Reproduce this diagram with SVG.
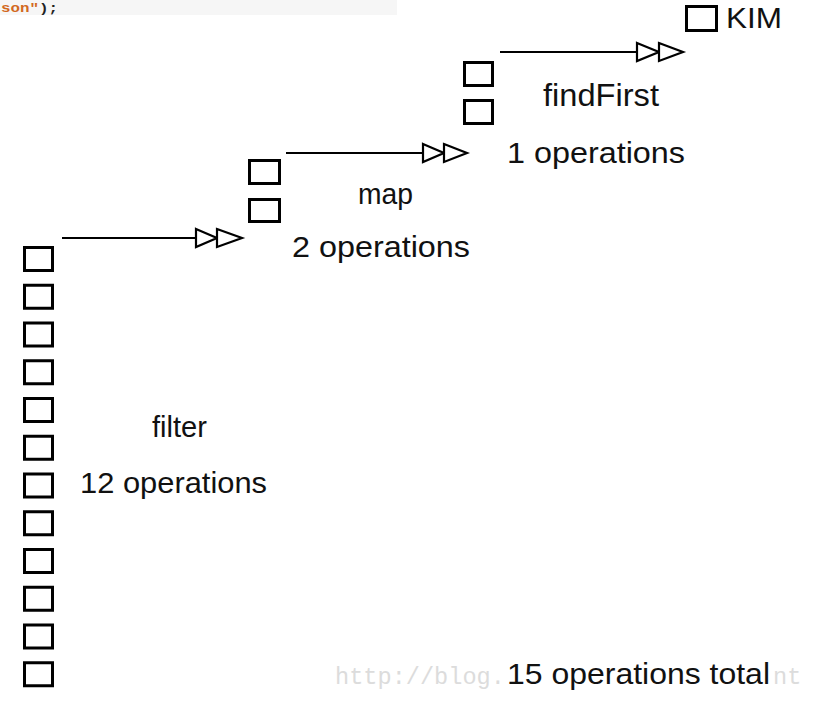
<svg xmlns="http://www.w3.org/2000/svg" width="837" height="705" viewBox="0 0 837 705">
<style>
.sq{fill:none;stroke:#000;stroke-width:3}
.ln{stroke:#000;stroke-width:2.2;fill:none}
.hd{fill:#fff;stroke:#000;stroke-width:2.2;stroke-linejoin:miter}
.t{font-family:"Liberation Sans",Arial,sans-serif;fill:#111}
.wm{font-family:"Liberation Mono","Courier New",monospace;font-size:23.6px;fill:#dcdcdc}
</style>
<rect width="837" height="705" fill="#fff"/>
<g id="code-snippet">
<rect x="0" y="0" width="397" height="15" fill="#f6f6f6"/>
<text x="1" y="11.5" font-family="Liberation Mono,monospace" font-size="13.5" font-weight="bold" textLength="57" lengthAdjust="spacingAndGlyphs"><tspan fill="#d2691e">son"</tspan><tspan fill="#222">);</tspan></text>
</g>
<g id="watermark">
<text class="wm" x="335" y="684">http://blog.</text>
<text class="wm" x="773" y="684">nt</text>
</g>
<g id="filter-node">
<rect class="sq" x="24.5" y="247.5" width="28" height="23"/>
<rect class="sq" x="24.5" y="285.25" width="28" height="23"/>
<rect class="sq" x="24.5" y="323" width="28" height="23"/>
<rect class="sq" x="24.5" y="360.75" width="28" height="23"/>
<rect class="sq" x="24.5" y="398.5" width="28" height="23"/>
<rect class="sq" x="24.5" y="436.25" width="28" height="23"/>
<rect class="sq" x="24.5" y="474" width="28" height="23"/>
<rect class="sq" x="24.5" y="511.75" width="28" height="23"/>
<rect class="sq" x="24.5" y="549.5" width="28" height="23"/>
<rect class="sq" x="24.5" y="587.25" width="28" height="23"/>
<rect class="sq" x="24.5" y="625" width="28" height="23"/>
<rect class="sq" x="24.5" y="662.75" width="28" height="23"/>
<text class="t" x="152" y="437" font-size="29.5" textLength="55" lengthAdjust="spacingAndGlyphs">filter</text>
<text class="t" x="80" y="493" font-size="29.5" textLength="187" lengthAdjust="spacingAndGlyphs">12 operations</text>
</g>
<g id="map-node">
<rect class="sq" x="249.5" y="160.5" width="30" height="23"/>
<rect class="sq" x="249.5" y="199.5" width="30" height="22"/>
<text class="t" x="358" y="204" font-size="29.5" textLength="55" lengthAdjust="spacingAndGlyphs">map</text>
<text class="t" x="292" y="257" font-size="29.5" textLength="178" lengthAdjust="spacingAndGlyphs">2 operations</text>
</g>
<g id="findfirst-node">
<rect class="sq" x="464.5" y="62.5" width="28" height="23"/>
<rect class="sq" x="464.5" y="100.5" width="28" height="23"/>
<text class="t" x="543" y="106" font-size="31" textLength="116" lengthAdjust="spacingAndGlyphs">findFirst</text>
<text class="t" x="507" y="163" font-size="29.5" textLength="178" lengthAdjust="spacingAndGlyphs">1 operations</text>
</g>
<g id="kim-node">
<rect class="sq" x="686.5" y="6.5" width="30" height="24"/>
<text class="t" x="726" y="28" font-size="30" textLength="56" lengthAdjust="spacingAndGlyphs">KIM</text>
</g>
<g id="total">
<rect x="505" y="658" width="266" height="32" fill="#fff"/>
<text class="t" x="507" y="684" font-size="30" textLength="263" lengthAdjust="spacingAndGlyphs">15 operations total</text>
</g>
<g id="connectors">
<line class="ln" x1="62" y1="238" x2="196" y2="238"/>
<path class="hd" d="M196,229 L217,238 L196,247 Z"/>
<path class="hd" d="M217,229 L242,238 L217,247 Z"/>
<line class="ln" x1="286" y1="153" x2="423" y2="153"/>
<path class="hd" d="M423,144 L444,153 L423,162 Z"/>
<path class="hd" d="M444,144 L467,153 L444,162 Z"/>
<line class="ln" x1="500" y1="52" x2="637" y2="52"/>
<path class="hd" d="M637,43 L659,52 L637,61 Z"/>
<path class="hd" d="M659,43 L683,52 L659,61 Z"/>
</g>
</svg>
